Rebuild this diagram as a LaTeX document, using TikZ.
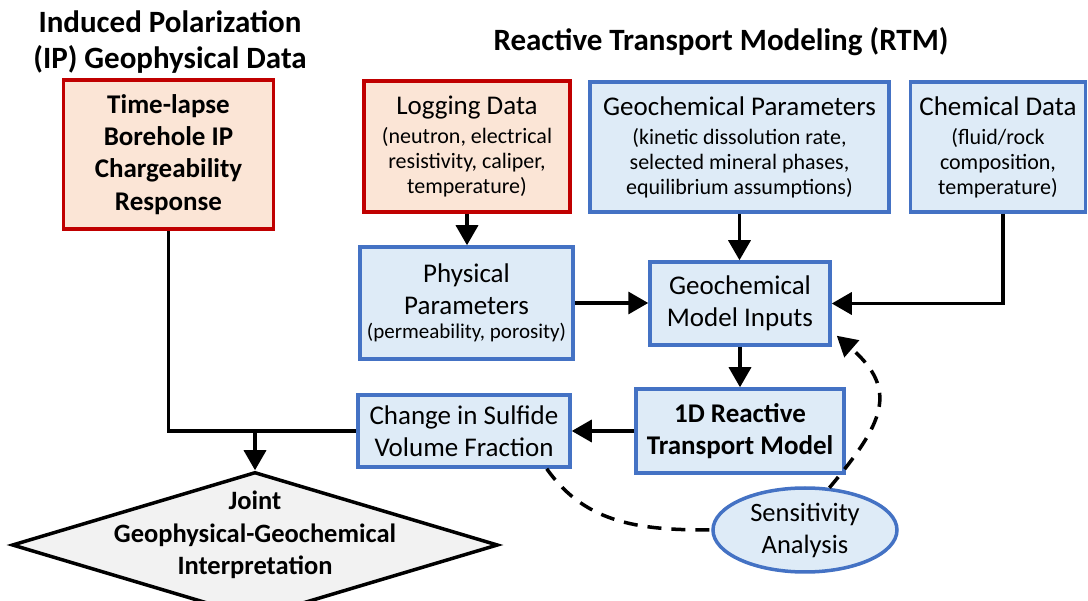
\documentclass[tikz,border=0pt]{standalone}
\usepackage{fontspec}
\setmainfont{Carlito}
\usetikzlibrary{arrows.meta,shapes.geometric,calc}
\definecolor{bblue}{HTML}{4472C4}
\definecolor{fblue}{HTML}{DEEBF7}
\definecolor{bred}{HTML}{C00000}
\definecolor{fred}{HTML}{FBE5D6}
\definecolor{fgray}{HTML}{F2F2F2}
\tikzset{
  bluebox/.style={draw=bblue, fill=fblue, line width=3.5pt, rectangle, inner sep=0pt, align=center,
    font=\fontsize{22}{25}\selectfont},
  redbox/.style={draw=bred, fill=fred, line width=3.5pt, rectangle, inner sep=0pt, align=center,
    font=\fontsize{22}{25}\selectfont},
  big/.style={font=\fontsize{27}{32}\selectfont},
  bigb/.style={font=\fontsize{27}{32.3}\selectfont\bfseries},
  arr/.style={line width=3.5pt, -{Triangle[length=20pt,width=22pt]}},
  plain/.style={line width=3.5pt},
  dashline/.style={line width=3.5pt, dash pattern=on 14pt off 10pt},
  ttl/.style={font=\fontsize{31}{36}\selectfont\bfseries, align=center, inner sep=0pt}
}
\newcommand{\hd}[1]{{\fontsize{27}{29}\selectfont #1}}
\begin{document}
\begin{tikzpicture}[x=1pt,y=-1pt]
\clip (0,0) rectangle (1088,601);
\fill[white] (0,0) rectangle (1088,601);

% titles
\node[ttl] (t1) at (170,42) {Induced Polarization\\(IP) Geophysical Data};
\node[ttl] (t2) at (721,42) {Reactive Transport Modeling (RTM)};

% boxes
\node[redbox, bigb, minimum width=210pt, minimum height=149pt] (ip) at (168.5,154.5)
  {Time-lapse\\Borehole IP\\Chargeability\\Response};
\node[redbox, minimum width=206pt, minimum height=131pt] (log) at (467,146.5)
  {\hd{Logging Data}\\[4pt](neutron, electrical\\resistivity, caliper,\\temperature)};
\node[bluebox, minimum width=299pt, minimum height=130pt] (gp) at (739.5,147)
  {\hd{Geochemical Parameters}\\[4pt](kinetic dissolution rate,\\selected mineral phases,\\equilibrium assumptions)};
\node[bluebox, minimum width=175pt, minimum height=130pt] (cd) at (998,147)
  {\hd{Chemical Data}\\[4pt](fluid/rock\\composition,\\temperature)};
\node[bluebox, minimum width=213pt, minimum height=112pt] (phys) at (466.5,303)
  {\hd{Physical}\\[7pt]\hd{Parameters}\\[-1pt]{\fontsize{21}{25}\selectfont(permeability, porosity)}};
\node[bluebox, big, minimum width=180pt, minimum height=83pt] (gmi) at (740,303.5)
  {Geochemical\\Model Inputs};
\node[bluebox, bigb, minimum width=208pt, minimum height=84pt] (rtm) at (740,431)
  {1D Reactive\\Transport Model};
\node[bluebox, big, minimum width=212pt, minimum height=72pt] (chg) at (464,431)
  {Change in Sulfide\\Volume Fraction};
\node[ellipse, draw=bblue, fill=fblue, line width=3.5pt, inner sep=0pt, minimum width=184pt, minimum height=84pt,
  align=center, font=\fontsize{26.5}{32}\selectfont] (sens) at (805,530) {Sensitivity\\Analysis};
\node[diamond, draw=black, fill=fgray, line width=3.5pt, inner sep=0pt, minimum width=486pt, minimum height=146pt] (joint) at (255,545) {};
\node[align=center, inner sep=0pt, font=\fontsize{26.5}{32.5}\selectfont\bfseries] (jtext) at (255,535)
  {Joint\\Geophysical-Geochemical\\Interpretation};

% connectors
\coordinate (jn) at (joint.north |- chg.west);
\draw[plain] (ip.south) |- (chg.west);
\draw[arr] (jn) -- (joint.north);
\draw[arr] (log.south) -- (log.south |- phys.north);
\draw[arr] (gp.south) -- (gp.south |- gmi.north);
\draw[arr] ([xshift=5pt]cd.south) |- (gmi.east);
\draw[arr] (phys.east) -- (phys.east -| gmi.west);
\draw[arr] (gmi.south) -- (rtm.north);
\draw[arr] (rtm.west) -- (chg.east);
\coordinate (dstart) at ([xshift=-25pt]chg.south east);
\coordinate (dend) at ([xshift=5pt,yshift=11pt]gmi.south east);
\draw[dashline] (dstart) to[out=-55,in=180] (sens.west);
\draw[dashline, -{Triangle[length=20pt,width=22pt]}] (sens.60) to[out=50,in=-41,looseness=1.4] (dend);
\end{tikzpicture}
\end{document}
